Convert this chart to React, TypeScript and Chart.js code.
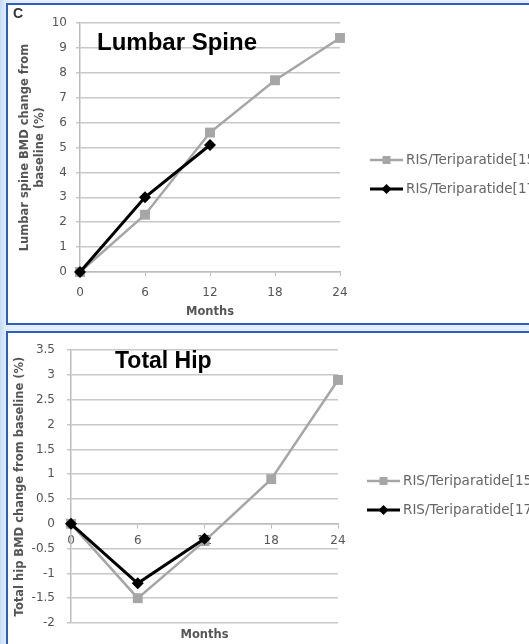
import React, { useEffect, useRef } from "react";
import { Chart, registerables } from "chart.js";

Chart.register(...registerables);

// ---- data ----
const months = ["0", "6", "12", "18", "24"];
const legendNames = ["RIS/Teriparatide[15]", "RIS/Teriparatide[17]"];
const spine15 = [0, 2.3, 5.6, 7.7, 9.4];
const spine17 = [0, 3.0, 5.1, null, null];
const hip15 = [0, -1.5, -0.35, 0.9, 2.9];
const hip17 = [0, -1.2, -0.3, null, null];
const spineTicks = [0, 1, 2, 3, 4, 5, 6, 7, 8, 9, 10];
const hipTicks = [-2, -1.5, -1, -0.5, 0, 0.5, 1, 1.5, 2, 2.5, 3, 3.5];
const spineYTitle = ["Lumbar spine BMD change from", "baseline (%)"];
const hipYTitle = "Total hip BMD change from baseline (%)";
const xTitle = "Months";
const spineTitle = "Lumbar Spine";
const hipTitle = "Total Hip";
const panelLetter = "C";

// ---- styles ----
const GREY = "#a6a6a6";
const BLACK = "#000000";
const TEXT = "#555555";
const GRID = "#c8c8c8";
const AXIS = "#bcbcbc";
const FONT = "'DejaVu Sans', sans-serif";

const overlayPlugin = {
  id: "overlay",
  afterDraw(chart: any, _args: any, opts: any) {
    const ctx = chart.ctx;
    ctx.save();
    (opts.texts || []).forEach((t: any) => {
      ctx.font = t.font;
      ctx.fillStyle = t.color;
      ctx.textAlign = "left";
      ctx.textBaseline = "alphabetic";
      ctx.fillText(t.text, t.x, t.y);
    });
    const lg = opts.legend;
    chart.data.datasets.forEach((ds: any, i: number) => {
      const y = lg.y + i * lg.gap;
      ctx.strokeStyle = ds.borderColor;
      ctx.lineWidth = ds.borderWidth;
      ctx.beginPath();
      ctx.moveTo(lg.x, y);
      ctx.lineTo(lg.x + lg.len, y);
      ctx.stroke();
      const cx = lg.x + lg.len / 2;
      ctx.fillStyle = ds.pointBackgroundColor;
      ctx.beginPath();
      if (ds.pointStyle === "rect") {
        const r = lg.square;
        ctx.rect(cx - r, y - r, 2 * r, 2 * r);
      } else {
        const r = lg.diamond;
        ctx.moveTo(cx, y - r);
        ctx.lineTo(cx + r, y);
        ctx.lineTo(cx, y + r);
        ctx.lineTo(cx - r, y);
        ctx.closePath();
      }
      ctx.fill();
      ctx.font = lg.font;
      ctx.fillStyle = lg.color;
      ctx.textBaseline = "middle";
      ctx.textAlign = "left";
      ctx.fillText(ds.label, lg.x + lg.len + lg.textGap, y);
    });
    ctx.restore();
  },
};

function datasets(a: (number | null)[], b: (number | null)[]) {
  return [
    {
      label: legendNames[0],
      data: a,
      borderColor: GREY,
      backgroundColor: GREY,
      pointBackgroundColor: GREY,
      pointBorderColor: GREY,
      borderWidth: 2.5,
      pointStyle: "rect",
      pointRadius: 7,
      pointBorderWidth: 0,
      tension: 0,
      order: 2,
      clip: false,
    },
    {
      label: legendNames[1],
      data: b,
      borderColor: BLACK,
      backgroundColor: BLACK,
      pointBackgroundColor: BLACK,
      pointBorderColor: BLACK,
      borderWidth: 3,
      pointStyle: "rectRot",
      pointRadius: 6,
      pointBorderWidth: 0,
      tension: 0,
      order: 1,
      clip: false,
    },
  ];
}

const tickFont = { family: FONT, size: 12 };
const titleFont = { family: FONT, size: 11.5, weight: "bold", lineHeight: 1.25 };

function spineConfig(): any {
  return {
    type: "line",
    data: { labels: months, datasets: datasets(spine15, spine17) },
    options: {
      responsive: false,
      animation: false,
      devicePixelRatio: 1,
      layout: { padding: { left: 0, top: 23, right: 220, bottom: 0 } },
      plugins: {
        legend: { display: false },
        tooltip: { enabled: false },
        overlay: {
          texts: [
            { text: panelLetter, x: 13, y: 18, font: `bold 14px 'Liberation Sans', Arial, sans-serif`, color: "#333" },
            { text: spineTitle, x: 97, y: 50, font: `bold 24px 'Liberation Sans', Arial, sans-serif`, color: "#000" },
          ],
          legend: { x: 370, y: 160, gap: 29, len: 33, textGap: 3, square: 4, diamond: 5, font: `13.5px ${FONT}`, color: "#666" },
        },
      },
      scales: {
        x: {
          type: "category",
          offset: false,
          grid: { display: true, drawOnChartArea: false, drawTicks: true, tickLength: 4, color: AXIS, lineWidth: 1 },
          border: { display: true, color: AXIS, width: 1.5 },
          ticks: { padding: 10, font: tickFont, color: TEXT, maxRotation: 0, autoSkip: false },
          title: { display: true, text: xTitle, font: titleFont, color: TEXT, padding: { top: 0, bottom: 4 } },
          afterFit: (s: any) => {
            s.height = 51;
          },
        },
        y: {
          type: "linear",
          min: 0,
          max: 10,
          afterBuildTicks: (s: any) => {
            s.ticks = spineTicks.map((v) => ({ value: v }));
          },
          ticks: { callback: (v: any) => String(v), padding: 9, font: tickFont, color: TEXT },
          grid: { color: GRID, lineWidth: 1.5, drawTicks: true, tickLength: 4 },
          border: { display: true, color: AXIS, width: 1.5 },
          title: { display: true, text: spineYTitle, font: titleFont, color: TEXT, padding: { top: 18, bottom: 0 } },
          afterFit: (s: any) => {
            s.width = 80;
          },
        },
      },
    },
    plugins: [overlayPlugin],
  };
}

function hipConfig(): any {
  return {
    type: "line",
    data: { labels: months, datasets: datasets(hip15, hip17) },
    options: {
      responsive: false,
      animation: false,
      devicePixelRatio: 1,
      layout: { padding: { left: 0, top: 12, right: 222, bottom: 0 } },
      plugins: {
        legend: { display: false },
        tooltip: { enabled: false },
        overlay: {
          texts: [{ text: hipTitle, x: 115, y: 37, font: `bold 23px 'Liberation Sans', Arial, sans-serif`, color: "#000" }],
          legend: { x: 367, y: 150, gap: 29, len: 33, textGap: 3, square: 4, diamond: 5, font: `13.5px ${FONT}`, color: "#666" },
        },
      },
      scales: {
        x: {
          type: "category",
          offset: false,
          position: { y: 0 },
          grid: { display: true, drawOnChartArea: false, drawTicks: true, tickLength: 4, color: AXIS, lineWidth: 1 },
          border: { display: true, color: AXIS, width: 1.5 },
          ticks: { padding: 6, font: tickFont, color: TEXT, maxRotation: 0, autoSkip: false },
          title: { display: false },
        },
        x2: {
          type: "category",
          position: "bottom",
          grid: { display: false },
          border: { display: false },
          ticks: { display: false },
          title: { display: true, text: xTitle, font: titleFont, color: TEXT, padding: { top: 0, bottom: 2 } },
          afterFit: (s: any) => {
            s.height = 21;
          },
        },
        y: {
          type: "linear",
          min: -2,
          max: 3.5,
          afterBuildTicks: (s: any) => {
            s.ticks = hipTicks.map((v) => ({ value: v }));
          },
          ticks: { callback: (v: any) => String(v), padding: 12, font: tickFont, color: TEXT },
          grid: { color: GRID, lineWidth: 1.5, drawTicks: true, tickLength: 4 },
          border: { display: true, color: AXIS, width: 1.5 },
          title: { display: true, text: hipYTitle, font: titleFont, color: TEXT, padding: { top: 13, bottom: 0 } },
          afterFit: (s: any) => {
            s.width = 71;
          },
        },
      },
    },
    plugins: [overlayPlugin],
  };
}

function ChartCanvas({ config, top, height }: { config: () => any; top: number; height: number }) {
  const ref = useRef<HTMLCanvasElement | null>(null);
  useEffect(() => {
    if (!ref.current) return;
    const chart = new Chart(ref.current, config());
    return () => chart.destroy();
  }, []);
  return (
    <canvas
      ref={ref}
      width={560}
      height={height}
      style={{ position: "absolute", left: 0, top, width: 560, height, zIndex: 2 }}
    />
  );
}

export default function App() {
  useEffect(() => {
    document.body.style.margin = "0";
  }, []);
  const panel: React.CSSProperties = {
    position: "absolute",
    left: 6,
    width: 600,
    boxSizing: "border-box",
    border: "2px solid #2c5fb8",
    background: "#ffffff",
    zIndex: 1,
  };
  return (
    <div
      style={{
        position: "relative",
        width: 529,
        height: 644,
        overflow: "hidden",
        background: "linear-gradient(to right, #c8daf4 0px, #e3edfb 6px, #e3edfb 100%)",
      }}
    >
      <div style={{ ...panel, top: 3, height: 322 }} />
      <div style={{ ...panel, top: 331, height: 400 }} />
      <ChartCanvas config={spineConfig} top={0} height={323} />
      <ChartCanvas config={hipConfig} top={331} height={313} />
    </div>
  );
}
